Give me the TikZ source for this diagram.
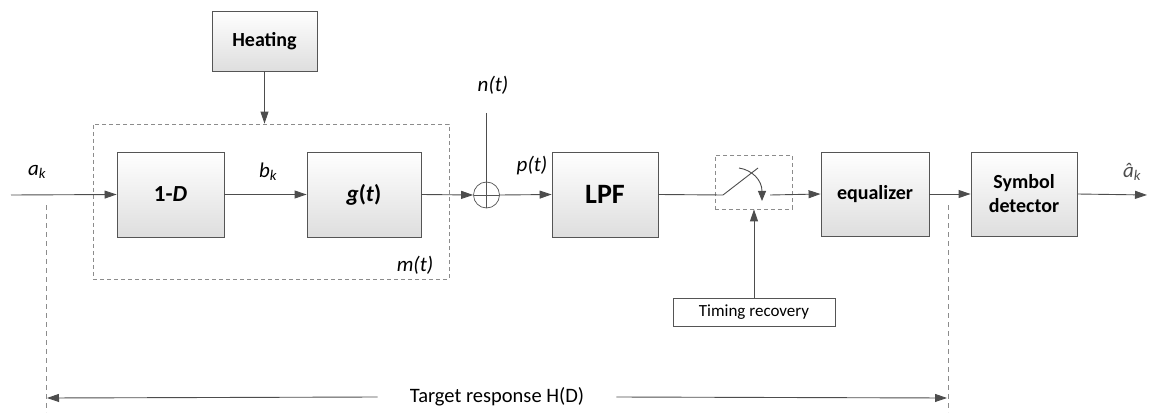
\documentclass[tikz,border=0pt]{standalone}
\usepackage{fontspec}
\setmainfont{Carlito}
\usetikzlibrary{arrows.meta}
\definecolor{edge}{HTML}{555555}
\definecolor{wirec}{HTML}{4D4D4D}
\definecolor{dashc}{HTML}{8C8C8C}

\begin{document}
\begin{tikzpicture}[x=1pt,y=-1pt,
  block/.style={draw=edge, line width=0.9pt, top color=white, bottom color=black!13,
    font=\bfseries\fontsize{20}{22}\selectfont, align=center, inner sep=0pt},
  wire/.style={draw=wirec, line width=0.9pt},
  flow/.style={wire, -{Triangle[length=12pt,width=8pt]}},
  dashbox/.style={draw=dashc, dash pattern=on 4pt off 3pt, line width=0.8pt, inner sep=0pt},
  guide/.style={draw=dashc, dash pattern=on 5pt off 4pt, line width=0.7pt},
  lbl/.style={font=\itshape\fontsize{21}{23}\selectfont, inner sep=0pt}
]
\useasboundingbox (0,0) rectangle (1153,414);

% enclosing boxes
\node[dashbox, minimum width=356pt, minimum height=155pt] (mbox) at (271,201.5) {};
\node[dashbox, minimum width=77pt, minimum height=54pt] (swbox) at (753.5,182) {};

% blocks
\node[block, minimum width=105pt, minimum height=60pt] (heat) at (264.5,41) {Heating};
\node[block, minimum width=107pt, minimum height=85pt, font=\bfseries\fontsize{23}{25}\selectfont] (oned) at (170.5,194.5) {1-\textit{D}};
\node[block, minimum width=114pt, minimum height=85pt, font=\bfseries\fontsize{23}{25}\selectfont] (gt) at (364,194.5) {\textit{g}(\textit{t})};
\node[block, minimum width=106pt, minimum height=85pt, font=\bfseries\fontsize{28}{30}\selectfont] (lpf) at (605,194.5) {LPF};
\node[block, minimum width=108pt, minimum height=84pt] (eq) at (875,194) {equalizer};
\node[block, minimum width=106pt, minimum height=84pt, font=\bfseries\fontsize{20}{24}\selectfont] (sym) at (1024,194) {Symbol\\detector};
\node[draw=edge, line width=0.8pt, fill=white, minimum width=162pt, minimum height=28pt,
  inner sep=0pt, font=\fontsize{17}{19}\selectfont] (timing) at (754,312) {Timing recovery};

% adder
\node[circle, draw=edge, line width=0.7pt, minimum size=26pt, inner sep=0pt,
  path picture={\draw[edge, line width=0.7pt]
    (path picture bounding box.north) -- (path picture bounding box.south)
    (path picture bounding box.west) -- (path picture bounding box.east);}] (sum) at (486.5,195) {};

% free ends
\coordinate (in) at (11,195);
\coordinate (out) at (1147,195);
\coordinate (ntop) at (486.5,113);
\coordinate (swpivot) at (723,195);
\coordinate (swblade) at (758,168);
\coordinate (swarcA) at (739,168);
\coordinate (swarcB) at (762,201);
\coordinate (swout) at (770,195);

% signal path
\draw[flow] (in) -- (oned.west);
\draw[flow] (oned.east) -- (gt.west);
\draw[flow] (gt.east) -- (sum.west);
\draw[wire] (ntop) -- (sum.north);
\draw[flow] (sum.east) -- (lpf.west);
\draw[wire] (lpf.east) -- (swpivot) -- (swblade);
\draw[wire, -{Triangle[length=10pt,width=8pt]}] (swarcA) .. controls (752,170) and (762,180) .. (swarcB);
\draw[flow] (swout) -- (eq.west);
\draw[flow] (eq.east) -- (sym.west);
\draw[flow] (sym.east) -- (out);
\draw[flow] (heat.south) -- (heat.south |- mbox.north);
\draw[flow] (timing.north) -- (timing.north |- swbox.south);

% signal labels
\node[lbl] (ak) at (37,172) {a\textsubscript{k}};
\node[lbl] (bk) at (268,172) {b\textsubscript{k}};
\node[lbl] (mt) at (415,265) {m(t)};
\node[lbl] (nt) at (493,85) {n(t)};
\node[lbl] (pt) at (532,166) {p(t)};
\node[lbl, text=black!70] (ahat) at (1132,172) {\^{a}\textsubscript{k}};

% target response span
\coordinate (gl0) at (46,205);
\coordinate (gl1) at (46,412);
\coordinate (gr0) at (948,205);
\coordinate (gr1) at (948,412);
\draw[guide] (gl0) -- (gl1);
\draw[guide] (gr0) -- (gr1);
\node[font=\fontsize{20.5}{22}\selectfont, inner sep=0pt] (target) at (497,397) {Target response H(D)};
\coordinate (tl) at (47,398);
\coordinate (tr) at (947,398);
\draw[flow] ([xshift=-32pt]target.west) -- (tl);
\draw[flow] ([xshift=32pt]target.east) -- (tr);
\end{tikzpicture}
\end{document}
